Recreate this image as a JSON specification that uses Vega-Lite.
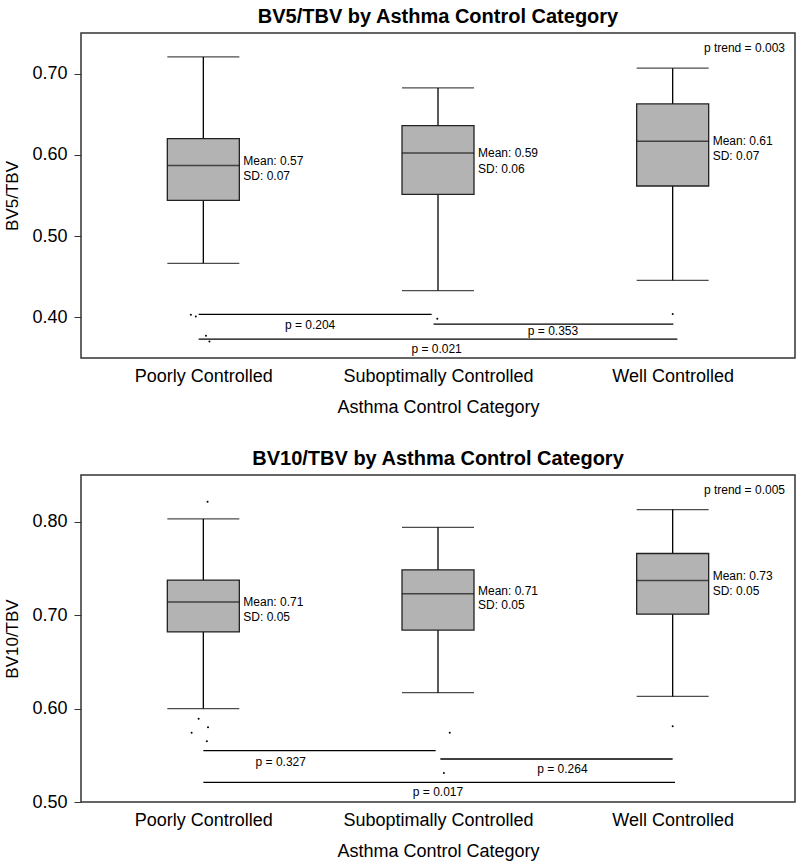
{
  "$schema": "https://vega.github.io/schema/vega-lite/v6.json",
  "background": "white",
  "padding": {"left": 3, "top": 6, "right": 5, "bottom": 2},
  "spacing": 31,
  "config": {
    "font": "Liberation Sans",
    "view": {"stroke": "#333333", "strokeWidth": 1.5},
    "axis": {"grid": false, "labelColor": "black", "titleColor": "black", "titleFontWeight": "normal", "labelLimit": 400},
    "title": {"font": "Liberation Sans", "fontSize": 20, "fontWeight": "bold", "color": "black", "anchor": "middle", "offset": 6}
  },
  "datasets": {
    "top_box": [
      {"pos": 1, "lower": 0.4665, "q1": 0.544, "median": 0.587, "q3": 0.620, "upper": 0.7206},
      {"pos": 2, "lower": 0.433, "q1": 0.5515, "median": 0.6023, "q3": 0.636, "upper": 0.6824},
      {"pos": 3, "lower": 0.4456, "q1": 0.5617, "median": 0.6167, "q3": 0.6627, "upper": 0.7067}
    ],
    "top_out": [
      {"pos": 0.947, "value": 0.4033},
      {"pos": 0.968, "value": 0.4012},
      {"pos": 1.011, "value": 0.3775},
      {"pos": 1.026, "value": 0.3704},
      {"pos": 1.997, "value": 0.3984},
      {"pos": 3.0, "value": 0.4041}
    ],
    "top_stats": [
      {"pos": 1, "y": 0.593, "t": "Mean: 0.57"},
      {"pos": 1, "y": 0.5736, "t": "SD: 0.07"},
      {"pos": 2, "y": 0.6023, "t": "Mean: 0.59"},
      {"pos": 2, "y": 0.5831, "t": "SD: 0.06"},
      {"pos": 3, "y": 0.6167, "t": "Mean: 0.61"},
      {"pos": 3, "y": 0.5983, "t": "SD: 0.07"}
    ],
    "top_p": [
      {"from": 0.980, "to": 1.973, "y": 0.4037, "lx": 1.455, "ly": 0.391, "t": "p = 0.204"},
      {"from": 1.981, "to": 3.003, "y": 0.3918, "lx": 2.49, "ly": 0.3828, "t": "p = 0.353"},
      {"from": 0.980, "to": 3.020, "y": 0.3733, "lx": 1.994, "ly": 0.3615, "t": "p = 0.021"}
    ],
    "top_trend": [{"pos": 3.5, "y": 0.7317, "t": "p trend = 0.003"}],
    "bot_box": [
      {"pos": 1, "lower": 0.600, "q1": 0.682, "median": 0.714, "q3": 0.7375, "upper": 0.803},
      {"pos": 2, "lower": 0.617, "q1": 0.684, "median": 0.7229, "q3": 0.7485, "upper": 0.794},
      {"pos": 3, "lower": 0.613, "q1": 0.701, "median": 0.737, "q3": 0.766, "upper": 0.813}
    ],
    "bot_out": [
      {"pos": 1.018, "value": 0.8215},
      {"pos": 0.98, "value": 0.589},
      {"pos": 1.02, "value": 0.580},
      {"pos": 0.95, "value": 0.574},
      {"pos": 1.015, "value": 0.565},
      {"pos": 2.05, "value": 0.574},
      {"pos": 2.025, "value": 0.531},
      {"pos": 3.0, "value": 0.581}
    ],
    "bot_stats": [
      {"pos": 1, "y": 0.714, "t": "Mean: 0.71"},
      {"pos": 1, "y": 0.698, "t": "SD: 0.05"},
      {"pos": 2, "y": 0.726, "t": "Mean: 0.71"},
      {"pos": 2, "y": 0.7107, "t": "SD: 0.05"},
      {"pos": 3, "y": 0.742, "t": "Mean: 0.73"},
      {"pos": 3, "y": 0.726, "t": "SD: 0.05"}
    ],
    "bot_p": [
      {"from": 1.0, "to": 1.99, "y": 0.555, "lx": 1.33, "ly": 0.543, "t": "p = 0.327"},
      {"from": 2.01, "to": 3.0, "y": 0.546, "lx": 2.53, "ly": 0.535, "t": "p = 0.264"},
      {"from": 1.0, "to": 3.01, "y": 0.521, "lx": 2.0, "ly": 0.511, "t": "p = 0.017"}
    ],
    "bot_trend": [{"pos": 3.5, "y": 0.834, "t": "p trend = 0.005"}]
  },
  "vconcat": [
    {
      "title": {"text": "BV5/TBV by Asthma Control Category"},
      "width": 714,
      "height": 325,
      "encoding": {
        "x": {"field": "pos", "type": "quantitative",
          "scale": {"domain": [0.5, 3.5], "nice": false, "zero": false},
          "axis": {"values": [1, 2, 3], "domain": false, "ticks": false, "labelFontSize": 18, "labelPadding": 9,
            "labelExpr": "datum.value == 1 ? 'Poorly Controlled' : datum.value == 2 ? 'Suboptimally Controlled' : 'Well Controlled'",
            "title": "Asthma Control Category", "titleFontSize": 18, "titlePadding": 13}}
      },
      "layer": [
        {"data": {"name": "top_box"}, "mark": {"type": "rule", "color": "black", "strokeWidth": 1.3},
          "encoding": {"y": {"field": "lower", "type": "quantitative",
            "scale": {"domain": [0.35, 0.75], "nice": false, "zero": false},
            "axis": {"values": [0.4, 0.5, 0.6, 0.7], "format": ".2f", "domain": false, "tickSize": 7, "tickColor": "#333333", "labelFontSize": 18, "labelPadding": 7, "title": "BV5/TBV", "titleFontSize": 17, "titlePadding": 10}},
            "y2": {"field": "upper"}}},
        {"data": {"name": "top_box"}, "mark": {"type": "tick", "orient": "horizontal", "size": 72, "thickness": 1.3, "color": "black"},
          "encoding": {"y": {"field": "upper", "type": "quantitative"}}},
        {"data": {"name": "top_box"}, "mark": {"type": "tick", "orient": "horizontal", "size": 72, "thickness": 1.3, "color": "black"},
          "encoding": {"y": {"field": "lower", "type": "quantitative"}}},
        {"data": {"name": "top_box"}, "mark": {"type": "bar", "width": 72, "fill": "#b3b3b3", "stroke": "#222222", "strokeWidth": 1.3},
          "encoding": {"y": {"field": "q1", "type": "quantitative"}, "y2": {"field": "q3"}}},
        {"data": {"name": "top_box"}, "mark": {"type": "tick", "orient": "horizontal", "size": 72, "thickness": 1.5, "color": "#111111"},
          "encoding": {"y": {"field": "median", "type": "quantitative"}}},
        {"data": {"name": "top_out"}, "mark": {"type": "circle", "size": 4, "color": "black", "opacity": 1},
          "encoding": {"y": {"field": "value", "type": "quantitative"}}},
        {"data": {"name": "top_stats"}, "mark": {"type": "text", "align": "left", "baseline": "middle", "dx": 40, "fontSize": 12, "color": "black"},
          "encoding": {"y": {"field": "y", "type": "quantitative"}, "text": {"field": "t"}}},
        {"data": {"name": "top_p"}, "mark": {"type": "rule", "color": "black", "strokeWidth": 1.3},
          "encoding": {"x": {"field": "from", "type": "quantitative"}, "x2": {"field": "to"}, "y": {"field": "y", "type": "quantitative"}}},
        {"data": {"name": "top_p"}, "mark": {"type": "text", "align": "center", "baseline": "middle", "fontSize": 12, "color": "black"},
          "encoding": {"x": {"field": "lx", "type": "quantitative"}, "y": {"field": "ly", "type": "quantitative"}, "text": {"field": "t"}}},
        {"data": {"name": "top_trend"}, "mark": {"type": "text", "align": "right", "baseline": "middle", "dx": -5, "fontSize": 12, "color": "black"},
          "encoding": {"y": {"field": "y", "type": "quantitative"}, "text": {"field": "t"}}}
      ]
    },
    {
      "title": {"text": "BV10/TBV by Asthma Control Category"},
      "width": 714,
      "height": 327,
      "encoding": {
        "x": {"field": "pos", "type": "quantitative",
          "scale": {"domain": [0.5, 3.5], "nice": false, "zero": false},
          "axis": {"values": [1, 2, 3], "domain": false, "ticks": false, "labelFontSize": 18, "labelPadding": 9,
            "labelExpr": "datum.value == 1 ? 'Poorly Controlled' : datum.value == 2 ? 'Suboptimally Controlled' : 'Well Controlled'",
            "title": "Asthma Control Category", "titleFontSize": 18, "titlePadding": 13}}
      },
      "layer": [
        {"data": {"name": "bot_box"}, "mark": {"type": "rule", "color": "black", "strokeWidth": 1.3},
          "encoding": {"y": {"field": "lower", "type": "quantitative",
            "scale": {"domain": [0.5, 0.85], "nice": false, "zero": false},
            "axis": {"values": [0.5, 0.6, 0.7, 0.8], "format": ".2f", "domain": false, "tickSize": 7, "tickColor": "#333333", "labelFontSize": 18, "labelPadding": 7, "title": "BV10/TBV", "titleFontSize": 17, "titlePadding": 10}},
            "y2": {"field": "upper"}}},
        {"data": {"name": "bot_box"}, "mark": {"type": "tick", "orient": "horizontal", "size": 72, "thickness": 1.3, "color": "black"},
          "encoding": {"y": {"field": "upper", "type": "quantitative"}}},
        {"data": {"name": "bot_box"}, "mark": {"type": "tick", "orient": "horizontal", "size": 72, "thickness": 1.3, "color": "black"},
          "encoding": {"y": {"field": "lower", "type": "quantitative"}}},
        {"data": {"name": "bot_box"}, "mark": {"type": "bar", "width": 72, "fill": "#b3b3b3", "stroke": "#222222", "strokeWidth": 1.3},
          "encoding": {"y": {"field": "q1", "type": "quantitative"}, "y2": {"field": "q3"}}},
        {"data": {"name": "bot_box"}, "mark": {"type": "tick", "orient": "horizontal", "size": 72, "thickness": 1.5, "color": "#111111"},
          "encoding": {"y": {"field": "median", "type": "quantitative"}}},
        {"data": {"name": "bot_out"}, "mark": {"type": "circle", "size": 4, "color": "black", "opacity": 1},
          "encoding": {"y": {"field": "value", "type": "quantitative"}}},
        {"data": {"name": "bot_stats"}, "mark": {"type": "text", "align": "left", "baseline": "middle", "dx": 40, "fontSize": 12, "color": "black"},
          "encoding": {"y": {"field": "y", "type": "quantitative"}, "text": {"field": "t"}}},
        {"data": {"name": "bot_p"}, "mark": {"type": "rule", "color": "black", "strokeWidth": 1.3},
          "encoding": {"x": {"field": "from", "type": "quantitative"}, "x2": {"field": "to"}, "y": {"field": "y", "type": "quantitative"}}},
        {"data": {"name": "bot_p"}, "mark": {"type": "text", "align": "center", "baseline": "middle", "fontSize": 12, "color": "black"},
          "encoding": {"x": {"field": "lx", "type": "quantitative"}, "y": {"field": "ly", "type": "quantitative"}, "text": {"field": "t"}}},
        {"data": {"name": "bot_trend"}, "mark": {"type": "text", "align": "right", "baseline": "middle", "dx": -5, "fontSize": 12, "color": "black"},
          "encoding": {"y": {"field": "y", "type": "quantitative"}, "text": {"field": "t"}}}
      ]
    }
  ]
}
